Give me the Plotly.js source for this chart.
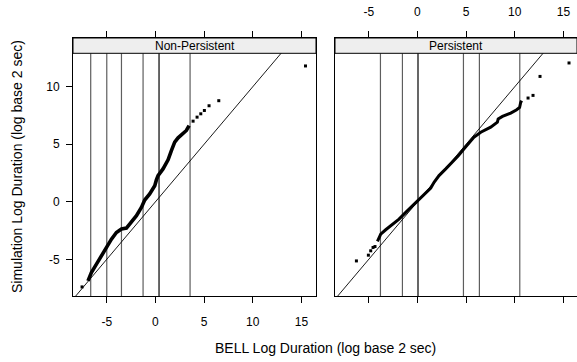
<!DOCTYPE html>
<html><head><meta charset="utf-8">
<script src="https://cdn.plot.ly/plotly-3.0.1.min.js"></script>
<style>html,body{margin:0;padding:0;background:#fff}</style>
</head><body><div id="chart" style="width:577px;height:362px"></div>
<script>
// ---- data ----
const panelNames = ["Non-Persistent", "Persistent"];
const xTickVals = [-5, 0, 5, 10, 15];
const xTickText = ["-5", "0", "5", "10", "15"];
const yTickVals = [-5, 0, 5, 10];
const yTickText = ["-5", "0", "5", "10"];

// Non-Persistent: dense body of the quantile-quantile points
const npBodyX = [-6.93, -6.58, -6.06, -5.55, -5.04, -4.52, -4.01, -3.49, -2.98, -2.47, -1.95, -1.44, -1.10, -0.59, -0.07, 0.10, 0.27, 0.78, 1.30, 1.64, 1.98, 2.33, 2.84, 3.18, 3.46];
const npBodyY = [-6.88, -6.15, -5.42, -4.70, -3.91, -3.25, -2.67, -2.37, -2.29, -1.80, -1.21, -0.49, 0.15, 0.68, 1.40, 1.90, 2.28, 2.86, 3.65, 4.45, 5.18, 5.56, 5.91, 6.20, 6.63];
// Non-Persistent: sparse tail points
const npTailX = [-7.54, 3.87, 4.28, 4.66, 5.03, 5.51, 6.51, 15.42];
const npTailY = [-7.40, 7.01, 7.36, 7.65, 7.94, 8.35, 8.79, 11.81];

// Persistent: dense body
const pBodyX = [-4.11, -3.77, -3.26, -2.57, -1.89, -1.20, -0.51, 0.17, 0.85, 1.37, 1.71, 2.22, 2.91, 3.60, 4.20, 4.73, 5.30, 5.80, 6.51, 7.53, 8.22, 8.30, 8.74, 9.59, 10.20, 10.50, 10.60, 10.70];
const pBodyY = [-3.45, -2.81, -2.43, -2.00, -1.50, -0.92, -0.34, 0.24, 0.82, 1.20, 1.69, 2.28, 2.86, 3.44, 4.00, 4.55, 5.10, 5.60, 6.05, 6.49, 6.92, 7.20, 7.42, 7.71, 8.00, 8.20, 8.60, 8.80];
// Persistent: sparse tail points
const pTailX = [-6.27, -5.04, -4.80, -4.56, -4.36, 11.37, 11.88, 12.60, 15.58];
const pTailY = [-5.14, -4.64, -4.26, -3.97, -3.89, 9.02, 9.25, 10.90, 12.07];

// vertical reference lines (BELL log duration values)
const npVLines = [-6.65, -5.00, -3.49, -1.27, 0.37, 3.56];
const npDarkLine = 0.37;
const pVLines = [-3.80, -1.54, 0.06, 4.73, 6.37, 10.52];
const pDarkLine = 0.06;

// y = x reference line end points
const refLine = [-10, 20];

// ---- styling / layout ----
const FONT = "Liberation Sans, Arial, Helvetica, sans-serif";
const yBottom = -8.19, yDataTop = 12.91, yTop = 14.24;
const stripFrac = (yDataTop - yBottom) / (yTop - yBottom);

function body(x, y, xa, ya, w) {
  return {x: x, y: y, xaxis: xa, yaxis: ya, type: 'scatter', mode: 'lines',
    line: {color: 'black', width: w}, hoverinfo: 'skip', showlegend: false};
}
function tail(x, y, xa, ya) {
  return {x: x, y: y, xaxis: xa, yaxis: ya, type: 'scatter', mode: 'markers',
    marker: {color: 'black', size: 3, symbol: 'square'}, hoverinfo: 'skip', showlegend: false};
}
function ref(xa, ya) {
  return {x: refLine, y: refLine, xaxis: xa, yaxis: ya, type: 'scatter', mode: 'lines',
    line: {color: 'black', width: 0.9}, hoverinfo: 'skip', showlegend: false};
}

const traces = [
  ref('x', 'y'), body(npBodyX, npBodyY, 'x', 'y', 3.6), tail(npTailX, npTailY, 'x', 'y'),
  ref('x2', 'y2'), body(pBodyX, pBodyY, 'x2', 'y2', 3.0), tail(pTailX, pTailY, 'x2', 'y2')
];

const shapes = [];
function vlines(arr, dark, xref) {
  arr.forEach(v => shapes.push({type: 'line', xref: xref, yref: 'y domain', x0: v, x1: v, y0: 0, y1: stripFrac,
    layer: 'below', line: {color: v === dark ? '#000000' : '#5e5e5e', width: 1.2}}));
}
vlines(npVLines, npDarkLine, 'x');
vlines(pVLines, pDarkLine, 'x2');
['x', 'x2'].forEach(xr => shapes.push({type: 'rect', xref: xr + ' domain', yref: 'y domain',
  x0: 0, x1: 1, y0: stripFrac, y1: 1, layer: 'above', fillcolor: '#eeeeee', line: {color: 'black', width: 1}}));

const axCommon = {showgrid: false, zeroline: false, showline: true, linecolor: 'black', linewidth: 1,
  ticks: 'outside', ticklen: 6, tickwidth: 1, tickcolor: 'black',
  tickfont: {family: FONT, size: 12, color: 'black'}, fixedrange: true};

const layout = {
  width: 577, height: 362,
  margin: {l: 73, r: 0, t: 38, b: 66, pad: 0},
  paper_bgcolor: 'white', plot_bgcolor: 'white',
  font: {family: FONT, color: 'black'},
  showlegend: false,
  xaxis: Object.assign({}, axCommon, {domain: [0, 243 / 504], range: [-8.47, 16.50], anchor: 'y', side: 'bottom',
    mirror: 'ticks', tickvals: xTickVals, ticktext: xTickText, ticklabelstandoff: 9}),
  xaxis2: Object.assign({}, axCommon, {domain: [262 / 504, 1], range: [-8.47, 16.40], anchor: 'y2', side: 'top',
    mirror: 'ticks', tickvals: xTickVals, ticktext: xTickText, ticklabelstandoff: 10}),
  yaxis: Object.assign({}, axCommon, {domain: [0, 1], range: [yBottom, yTop], anchor: 'x', side: 'left',
    mirror: true, tickvals: yTickVals, ticktext: yTickText, ticklabelstandoff: 4}),
  yaxis2: Object.assign({}, axCommon, {domain: [0, 1], range: [yBottom, yTop], anchor: 'x2', matches: 'y',
    ticks: '', showticklabels: false, mirror: false}),
  shapes: shapes,
  annotations: [
    {text: panelNames[0], xref: 'x domain', yref: 'y domain', x: 0.5, y: (1 + stripFrac) / 2,
      xanchor: 'center', yanchor: 'middle', showarrow: false, font: {family: FONT, size: 12, color: 'black'}},
    {text: panelNames[1], xref: 'x2 domain', yref: 'y domain', x: 0.5, y: (1 + stripFrac) / 2,
      xanchor: 'center', yanchor: 'middle', showarrow: false, font: {family: FONT, size: 12, color: 'black'}},
    {text: 'BELL Log Duration (log base 2 sec)', xref: 'paper', yref: 'paper', x: 0.5, y: (296 - 348) / 258,
      xanchor: 'center', yanchor: 'middle', showarrow: false, font: {family: FONT, size: 14, color: 'black'}},
    {text: 'Simulation Log Duration (log base 2 sec)', xref: 'paper', yref: 'paper', x: (17 - 73) / 504, y: 0.5,
      textangle: -90, xanchor: 'center', yanchor: 'middle', showarrow: false, font: {family: FONT, size: 14, color: 'black'}}
  ]
};

Plotly.newPlot('chart', traces, layout, {staticPlot: true, displayModeBar: false});
</script></body></html>
